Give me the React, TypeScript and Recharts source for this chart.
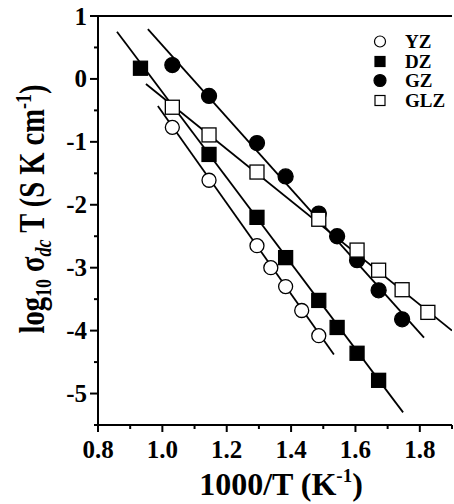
import React from 'react';
import {
  ComposedChart,
  Line,
  Scatter,
  XAxis,
  YAxis,
  ReferenceLine,
  Legend,
} from 'recharts';

// 1000/T values (K^-1)
const yzX = [1.031, 1.145, 1.294, 1.337, 1.383, 1.433, 1.486];
const yzY = [-0.77, -1.61, -2.65, -3.0, -3.3, -3.68, -4.08];
const dzX = [0.932, 1.145, 1.294, 1.383, 1.486, 1.543, 1.605, 1.672];
const dzY = [0.17, -1.2, -2.2, -2.84, -3.52, -3.95, -4.36, -4.79];
const gzX = [1.031, 1.145, 1.294, 1.383, 1.486, 1.543, 1.605, 1.672, 1.745];
const gzY = [0.22, -0.27, -1.02, -1.55, -2.14, -2.5, -2.88, -3.36, -3.82];
const glzX = [1.031, 1.145, 1.294, 1.486, 1.605, 1.672, 1.745, 1.825];
const glzY = [-0.45, -0.89, -1.48, -2.23, -2.72, -3.04, -3.35, -3.71];

// linear fits (end points)
const yzFitX = [0.986, 1.533];
const yzFitY = [-0.43, -4.38];
const dzFitX = [0.859, 1.748];
const dzFitY = [0.75, -5.3];
const gzFitX = [0.955, 1.813];
const gzFitY = [0.79, -4.11];
const glzFitX = [0.949, 1.9];
const glzFitY = [-0.08, -4.0];

const xTicks = [0.8, 0.9, 1.0, 1.1, 1.2, 1.3, 1.4, 1.5, 1.6, 1.7, 1.8, 1.9];
const yTicks = [-5.5, -5, -4.5, -4, -3.5, -3, -2.5, -2, -1.5, -1, -0.5, 0, 0.5, 1];

const seriesNames = ['YZ', 'DZ', 'GZ', 'GLZ'];

const zip = (xs: number[], ys: number[]) => xs.map((x, i) => ({ x, y: ys[i] }));

const FONT = '"Liberation Serif", "Times New Roman", serif';

const marker = (kind: string, filled: boolean, size: number) => (props: any) => {
  const { cx, cy } = props;
  if (cx == null || cy == null) return null;
  const fill = filled ? '#000' : '#fff';
  if (kind === 'circle') {
    return <circle cx={cx} cy={cy} r={size} fill={fill} stroke="#000" strokeWidth={1.3} />;
  }
  return (
    <rect x={cx - size} y={cy - size} width={size * 2} height={size * 2} fill={fill} stroke="#000" strokeWidth={1.3} />
  );
};

const XTick = (props: any) => {
  const { x, y, payload } = props;
  const v = payload.value;
  const major = Math.round(v * 10) % 2 === 0;
  return (
    <g>
      <line x1={x} y1={y} x2={x} y2={y + (major ? 7 : 4)} stroke="#000" strokeWidth={2} />
      {major && (
        <text x={x} y={y + 33} textAnchor="middle" fontFamily={FONT} fontWeight="bold" fontSize={25} fill="#000">
          {v.toFixed(1)}
        </text>
      )}
    </g>
  );
};

const YTick = (props: any) => {
  const { x, y, payload } = props;
  const v = payload.value;
  const major = Number.isInteger(v);
  return (
    <g>
      <line x1={x} y1={y} x2={x - (major ? 8 : 4)} y2={y} stroke="#000" strokeWidth={2} />
      {major && (
        <text x={x - 11} y={y + 8.5} textAnchor="end" fontFamily={FONT} fontWeight="bold" fontSize={25} fill="#000">
          {v}
        </text>
      )}
    </g>
  );
};

const XLabel = () => (
  <text x={281} y={495} textAnchor="middle" fontFamily={FONT} fontWeight="bold" fontSize={32} fill="#000">
    1000/T (K
    <tspan fontSize={19} dy={-13}>-1</tspan>
    <tspan dy={13}>)</tspan>
  </text>
);

const YLabel = () => (
  <text
    x={0}
    y={0}
    transform="translate(44,209) rotate(-90) scale(0.95,1.2)"
    textAnchor="middle"
    fontFamily={FONT}
    fontWeight="bold"
    fontSize={30}
    fill="#000"
  >
    log
    <tspan fontSize={19} dy={6}>10</tspan>
    <tspan dy={-6}> σ</tspan>
    <tspan fontSize={19} fontStyle="italic" dy={6}>dc</tspan>
    <tspan dy={-6}> T (S K cm</tspan>
    <tspan fontSize={19} dy={-11}>-1</tspan>
    <tspan dy={11}>)</tspan>
  </text>
);

const legendIcons = [
  { kind: 'circle', filled: false },
  { kind: 'square', filled: true },
  { kind: 'circle', filled: true },
  { kind: 'square', filled: false },
];

const LegendBox = () => (
  <div style={{ fontFamily: FONT, fontWeight: 'bold', fontSize: 19, lineHeight: '19px' }}>
    {seriesNames.map((name, i) => {
      const ic = legendIcons[i];
      return (
        <div key={name} style={{ display: 'flex', alignItems: 'center', height: 19.5 }}>
          <svg width={24} height={19} style={{ marginRight: 9 }}>
            {ic.kind === 'circle' ? (
              <circle cx={8} cy={9.5} r={ic.filled ? 6 : 5.5} fill={ic.filled ? '#000' : '#fff'} stroke="#000" strokeWidth={1.2} />
            ) : (
              <rect x={3} y={4.5} width={10} height={10} fill={ic.filled ? '#000' : '#fff'} stroke="#000" strokeWidth={1.2} />
            )}
          </svg>
          <span>{name}</span>
        </div>
      );
    })}
  </div>
);

export default function App() {
  return (
    <div style={{ position: 'absolute', left: 0, top: 0, width: 454, height: 504, background: '#fff' }}>
      <ComposedChart width={454} height={504} margin={{ top: 16, right: 2, bottom: 0, left: 0 }}>
        <XAxis
          type="number"
          dataKey="x"
          domain={[0.8, 1.9]}
          ticks={xTicks}
          interval={0}
          height={79}
          tickSize={0}
          tickMargin={0}
          tickLine={false}
          axisLine={{ stroke: '#000', strokeWidth: 2 }}
          tick={<XTick />}
          allowDataOverflow
          label={<XLabel />}
        />
        <YAxis
          type="number"
          dataKey="y"
          domain={[-5.5, 1]}
          ticks={yTicks}
          interval={0}
          width={98}
          tickSize={0}
          tickMargin={0}
          tickLine={false}
          axisLine={{ stroke: '#000', strokeWidth: 2 }}
          tick={<YTick />}
          allowDataOverflow
          label={<YLabel />}
        />
        <ReferenceLine y={1} stroke="#000" strokeWidth={2} />
        <Legend
          verticalAlign="middle"
          align="center"
          layout="vertical"
          content={<LegendBox />}
          wrapperStyle={{ top: 32, left: 372, width: 82 }}
        />
        <Line data={zip(yzFitX, yzFitY)} dataKey="y" stroke="#000" strokeWidth={1.8} dot={false} isAnimationActive={false} legendType="none" />
        <Line data={zip(dzFitX, dzFitY)} dataKey="y" stroke="#000" strokeWidth={1.8} dot={false} isAnimationActive={false} legendType="none" />
        <Line data={zip(gzFitX, gzFitY)} dataKey="y" stroke="#000" strokeWidth={1.8} dot={false} isAnimationActive={false} legendType="none" />
        <Line data={zip(glzFitX, glzFitY)} dataKey="y" stroke="#000" strokeWidth={1.8} dot={false} isAnimationActive={false} legendType="none" />
        <Scatter name="YZ" data={zip(yzX, yzY)} shape={marker('circle', false, 7)} isAnimationActive={false} />
        <Scatter name="DZ" data={zip(dzX, dzY)} shape={marker('square', true, 7)} isAnimationActive={false} />
        <Scatter name="GZ" data={zip(gzX, gzY)} shape={marker('circle', true, 7.5)} isAnimationActive={false} />
        <Scatter name="GLZ" data={zip(glzX, glzY)} shape={marker('square', false, 7)} isAnimationActive={false} />
      </ComposedChart>
    </div>
  );
}
